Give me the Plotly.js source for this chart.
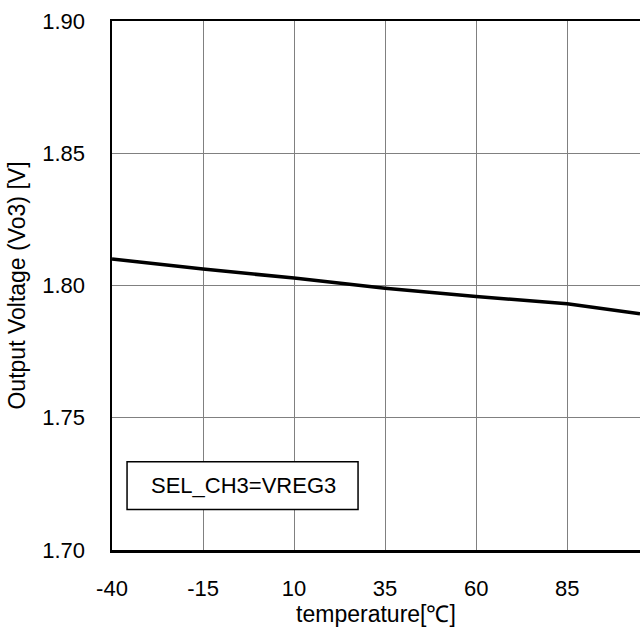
<!DOCTYPE html>
<html>
<head>
<meta charset="utf-8">
<script src="https://cdn.plot.ly/plotly-3.0.1.min.js"></script>
<style>html,body{margin:0;padding:0;overflow:hidden;background:#fff;}</style>
</head>
<body>
<div id="chart" style="width:640px;height:632px;"></div>
<script>
const temperature = [-40, -15, 10, 35, 60, 85, 105];
const vo3 = [1.8100, 1.8062, 1.8028, 1.7990, 1.7958, 1.7931, 1.7893];
const xTicks = [-40, -15, 10, 35, 60, 85];
const yTicks = [1.70, 1.75, 1.80, 1.85, 1.90];
const yTickText = ["1.70", "1.75", "1.80", "1.85", "1.90"];
const boxLabel = "SEL_CH3=VREG3";

const tickFont = {family: "Liberation Sans, Arial, sans-serif", size: 22, color: "#000"};
const titleFont = {family: "Liberation Sans, Arial, sans-serif", size: 23, color: "#000"};

Plotly.newPlot("chart", [{
  x: temperature,
  y: vo3,
  mode: "lines",
  line: {color: "#000", width: 3.5},
  hoverinfo: "skip"
}], {
  width: 640, height: 632,
  margin: {l: 112, r: 0, t: 21, b: 82},
  paper_bgcolor: "#fff", plot_bgcolor: "#fff",
  showlegend: false,
  font: tickFont,
  xaxis: {
    range: [-40, 105],
    tickvals: xTicks,
    ticktext: xTicks.map(String),
    showgrid: true, gridcolor: "#808080", gridwidth: 1,
    zeroline: false,
    showline: true, linecolor: "#000", linewidth: 2.5, mirror: true,
    ticks: "outside", ticklen: 17, tickcolor: "rgba(0,0,0,0)",
    tickfont: tickFont,
    title: {text: "temperature[℃]", font: titleFont, standoff: 3}
  },
  yaxis: {
    range: [1.70, 1.90],
    tickvals: yTicks,
    ticktext: yTickText,
    showgrid: true, gridcolor: "#808080", gridwidth: 1,
    zeroline: false,
    showline: true, linecolor: "#000", linewidth: 2.5, mirror: false,
    ticks: "outside", ticklen: 20, tickcolor: "rgba(0,0,0,0)",
    tickfont: tickFont,
    title: {text: "Output Voltage (Vo3) [V]", font: titleFont, standoff: 10}
  },
  shapes: [{
    type: "rect", xref: "paper", yref: "paper",
    x0: 0.0285, x1: 0.466, y0: 0.0765, y1: 0.167,
    line: {color: "#000", width: 1.5}, fillcolor: "#fff"
  }],
  annotations: [{
    xref: "paper", yref: "paper",
    x: 0.0705, y: 0.1218, xanchor: "left", yanchor: "middle",
    text: boxLabel, showarrow: false, font: tickFont
  }]
}, {displayModeBar: false, staticPlot: true});
</script>
</body>
</html>
